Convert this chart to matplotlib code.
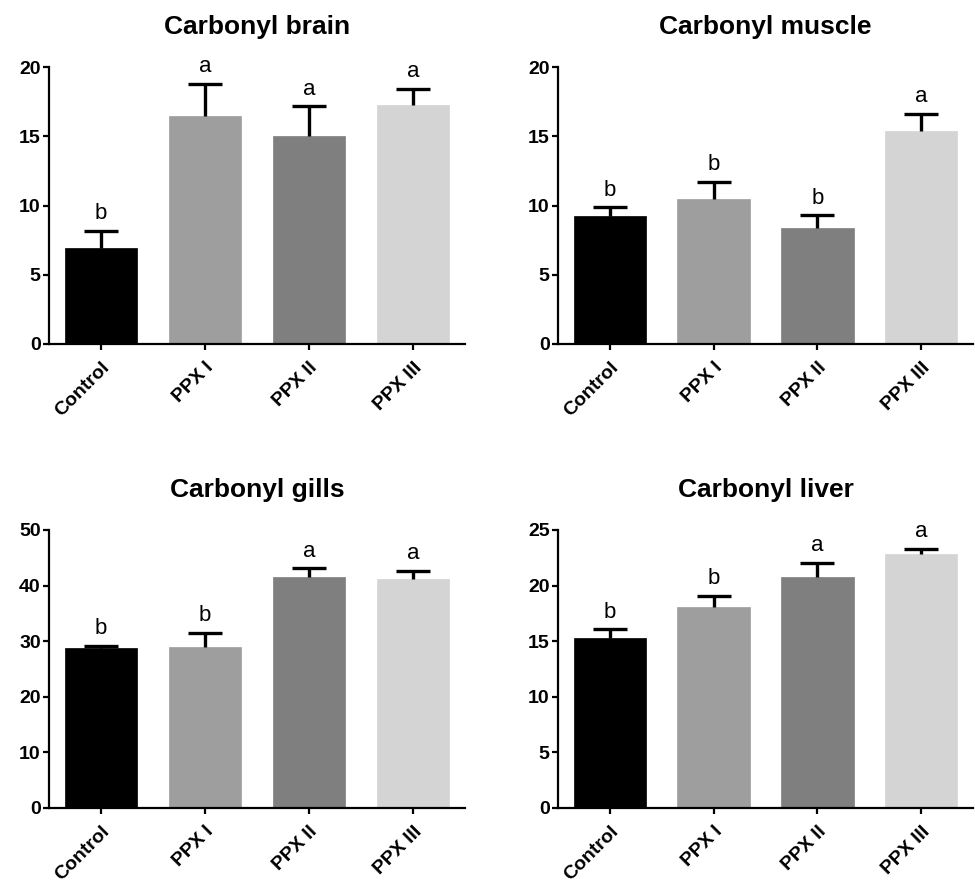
import matplotlib
matplotlib.use("Agg")
import matplotlib.pyplot as plt

plt.rcParams['font.family'] = ['Liberation Sans', 'DejaVu Sans']

categories = ["Control", "PPX I", "PPX II", "PPX III"]
colors = ["#000000", "#9e9e9e", "#7f7f7f", "#d4d4d4"]

titles = ["Carbonyl brain", "Carbonyl muscle", "Carbonyl gills", "Carbonyl liver"]

brain_mean = [6.9, 16.47, 15.0, 17.28]
brain_err = [1.27, 2.33, 2.16, 1.16]
brain_letters = ["b", "a", "a", "a"]

muscle_mean = [9.25, 10.46, 8.39, 15.38]
muscle_err = [0.61, 1.24, 0.89, 1.25]
muscle_letters = ["b", "b", "b", "a"]

gills_mean = [28.7, 29.0, 41.5, 41.2]
gills_err = [0.5, 2.5, 1.6, 1.5]
gills_letters = ["b", "b", "a", "a"]

liver_mean = [15.28, 18.04, 20.8, 22.81]
liver_err = [0.78, 1.02, 1.23, 0.51]
liver_letters = ["b", "b", "a", "a"]

ymax = [20, 20, 50, 25]
ystep = [5, 5, 10, 5]

means = [brain_mean, muscle_mean, gills_mean, liver_mean]
errs = [brain_err, muscle_err, gills_err, liver_err]
letters = [brain_letters, muscle_letters, gills_letters, liver_letters]

W, H = 975, 881
fig = plt.figure(figsize=(W / 100, H / 100), dpi=100)

boxes = [
    (49, 67, 465, 344),
    (558, 67, 973, 344),
    (49, 530, 465, 808),
    (558, 530, 973, 808),
]

for i in range(4):
    x0, y0, x1, y1 = boxes[i]
    ax = fig.add_axes([x0 / W, 1 - y1 / H, (x1 - x0) / W, (y1 - y0) / H])
    xs = list(range(len(categories)))
    ax.bar(xs, means[i], width=0.70, color=colors, edgecolor=colors, linewidth=0.5, zorder=2)
    eb = ax.errorbar(xs, means[i], yerr=[[0] * 4, errs[i]], fmt='none', ecolor='black',
                     elinewidth=2.4, capsize=12.5, capthick=2.4, zorder=3)
    # hide the lower caps (zero-length lower error)
    for cap in eb[1]:
        yd = list(cap.get_ydata())
        if all(abs(a - b) < 1e-9 for a, b in zip(yd, means[i])):
            cap.set_visible(False)
    for x, m, e, l in zip(xs, means[i], errs[i], letters[i]):
        ax.annotate(l, (x, m + e), xytext=(0, 8.5), textcoords='offset points',
                    ha='center', va='baseline', fontsize=16)
    ax.set_xlim(-0.5, 3.5)
    ax.set_ylim(0, ymax[i])
    ax.set_yticks(list(range(0, ymax[i] + 1, ystep[i])))
    ax.set_xticks(xs)
    ax.set_xticklabels(categories, rotation=45, ha='right', rotation_mode='anchor',
                       fontsize=14, fontweight='bold')
    for lab in ax.get_yticklabels():
        lab.set_fontsize(14)
        lab.set_fontweight('bold')
    ax.spines['top'].set_visible(False)
    ax.spines['right'].set_visible(False)
    ax.spines['left'].set_linewidth(1.6)
    ax.spines['bottom'].set_linewidth(1.6)
    ax.tick_params(axis='both', direction='out', length=4, width=1.6)
    ax.tick_params(axis='y', pad=2)
    ax.tick_params(axis='x', pad=7)
    ax.set_title(titles[i], fontsize=19, fontweight='bold', pad=24)

fig.savefig("out.png", dpi=100, facecolor='white')
